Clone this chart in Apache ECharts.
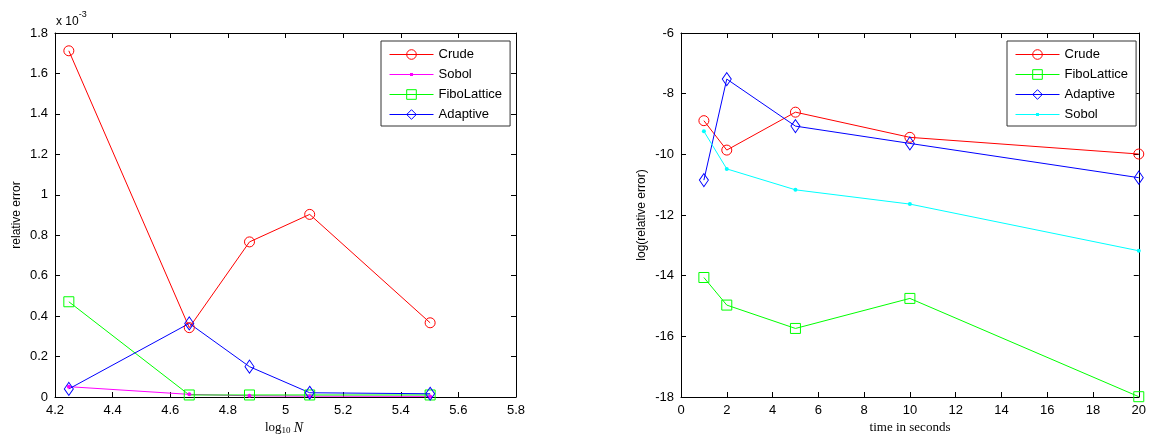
<!DOCTYPE html>
<html>
<head>
<meta charset="utf-8">
<script src="https://cdn.jsdelivr.net/npm/echarts@6/dist/echarts.min.js"></script>
<style>
html,body{margin:0;padding:0;background:#fff;}
#chart{width:1149px;height:437px;}
</style>
</head>
<body>
<div id="chart"></div>
<script>
// ---- Left plot: relative error (units of 1e-3) vs log10 N ----
const logN = [4.248, 4.666, 4.875, 5.084, 5.502];
const crudeErr = [1.712, 0.343, 0.767, 0.903, 0.367];
const sobolErr = [0.051, 0.013, 0.006, 0.004, 0.003];
const fiboErr = [0.471, 0.010, 0.010, 0.010, 0.010];
const adaptiveErr = [0.040, 0.364, 0.150, 0.021, 0.016];
const leftXTicks = [4.2, 5.8, 0.2];   // min, max, step
const leftYTicks = [0, 1.8, 0.2];

// ---- Right plot: log(relative error) vs time in seconds ----
const timeSec = [1, 2, 5, 10, 20];
const crudeLog = [-8.89, -9.86, -8.61, -9.44, -9.99];
const fiboLog = [-14.06, -14.97, -15.74, -14.75, -17.99];
const adaptiveLog = [-10.85, -7.52, -9.07, -9.64, -10.77];
const sobolLog = [-9.24, -10.48, -11.17, -11.64, -13.18];
const rightXTicks = [0, 20, 2];
const rightYTicks = [-18, -6, 2];

const leftNames = ['Crude', 'Sobol', 'FiboLattice', 'Adaptive'];
const rightNames = ['Crude', 'FiboLattice', 'Adaptive', 'Sobol'];

const pair = (xs, ys) => xs.map((x, i) => [x, ys[i]]);
const FONT = 'Liberation Sans, Arial, sans-serif';
const SERIF = 'Liberation Serif, Times New Roman, serif';

function mkSeries(name, xi, yi, data, color, symbol, size, filled) {
  return {
    name: name, type: 'line', xAxisIndex: xi, yAxisIndex: yi, data: data,
    symbol: symbol, symbolSize: size, showSymbol: true,
    lineStyle: {color: color, width: 1},
    itemStyle: {color: filled ? color : 'none', borderColor: color, borderWidth: filled ? 0 : 1},
    emphasis: {disabled: true},
    animation: false
  };
}

function axisBase(labels) {
  return {
    axisLine: {show: true, onZero: false, lineStyle: {color: '#000', width: 1}},
    axisTick: {show: true, inside: true, length: 5, lineStyle: {color: '#000'}},
    axisLabel: {show: labels, color: '#000', fontFamily: FONT, fontSize: 13, margin: 7},
    splitLine: {show: false}
  };
}

function ax(gi, pos, t, labels, fmt) {
  const b = axisBase(labels);
  return Object.assign(b, {
    type: 'value', gridIndex: gi, position: pos, min: t[0], max: t[1], interval: t[2],
    axisLabel: Object.assign(b.axisLabel, {formatter: fmt})
  });
}
const fmt1 = v => String(+v.toFixed(1));
const fmt0 = v => String(Math.round(v));

const chart = echarts.init(document.getElementById('chart'), null, {renderer: 'canvas'});

// small-dot legend icon (line with a tiny dot in the middle)
const dotIcon = 'path://M0,5.5L44,5.5L44,6.5L0,6.5Z M20.5,4.5L23.5,4.5L23.5,7.5L20.5,7.5Z';
const dotItem = n => ({name: n, icon: dotIcon, itemStyle: {borderWidth: 0}});

const legendCommon = {
  orient: 'vertical', itemWidth: 44, itemHeight: 12, itemGap: 5,
  padding: [6, 8, 4, 8], borderColor: '#333', borderWidth: 1, backgroundColor: '#fff',
  textStyle: {color: '#000', fontFamily: FONT, fontSize: 13, lineHeight: 15},
  lineStyle: {width: 1}, itemStyle: {borderWidth: 1},
  selectedMode: false, formatter: n => n.split('#')[0]
};

const option = {
  animation: false,
  backgroundColor: '#fff',
  grid: [
    {left: 55, top: 33, width: 461, height: 364},
    {left: 681, top: 33, width: 461, height: 364}
  ],
  xAxis: [
    ax(0, 'bottom', leftXTicks, true, fmt1),
    ax(0, 'top', leftXTicks, false, fmt1),
    ax(1, 'bottom', rightXTicks, true, fmt0),
    ax(1, 'top', rightXTicks, false, fmt0)
  ],
  yAxis: [
    ax(0, 'left', leftYTicks, true, fmt1),
    ax(0, 'right', leftYTicks, false, fmt1),
    ax(1, 'left', rightYTicks, true, fmt0),
    ax(1, 'right', rightYTicks, false, fmt0)
  ],
  legend: [
    Object.assign({}, legendCommon, {left: 381, top: 41,
      data: leftNames.map(n => n === 'Sobol' ? dotItem(n) : n)}),
    Object.assign({}, legendCommon, {left: 1007, top: 41,
      data: rightNames.map(n => n === 'Sobol' ? dotItem(n + '#2') : n + '#2')})
  ],
  series: [
    mkSeries('Crude', 0, 0, pair(logN, crudeErr), '#ff0000', 'circle', 10, false),
    mkSeries('Sobol', 0, 0, pair(logN, sobolErr), '#ff00ff', 'circle', 4, true),
    mkSeries('FiboLattice', 0, 0, pair(logN, fiboErr), '#00ff00', 'rect', 10, false),
    mkSeries('Adaptive', 0, 0, pair(logN, adaptiveErr), '#0000ff', 'diamond', [9, 13], false),
    mkSeries('Crude#2', 2, 2, pair(timeSec, crudeLog), '#ff0000', 'circle', 10, false),
    mkSeries('FiboLattice#2', 2, 2, pair(timeSec, fiboLog), '#00ff00', 'rect', 10, false),
    mkSeries('Adaptive#2', 2, 2, pair(timeSec, adaptiveLog), '#0000ff', 'diamond', [9, 13], false),
    mkSeries('Sobol#2', 2, 2, pair(timeSec, sobolLog), '#00ffff', 'circle', 4, true)
  ],
  graphic: [
    {type: 'text', left: 56, top: 10, silent: true,
     style: {text: '{a|x 10}{b|-3}', rich: {
       a: {fontFamily: FONT, fontSize: 12, fill: '#000', padding: [6, 0, 0, 0]},
       b: {fontFamily: FONT, fontSize: 9, fill: '#000', verticalAlign: 'top'}
     }}},
    {type: 'text', x: 17, y: 215, rotation: Math.PI / 2, silent: true,
     style: {text: 'relative error', fontFamily: FONT, fontSize: 12, fill: '#000',
             align: 'center', verticalAlign: 'middle'}},
    {type: 'text', x: 642, y: 215, rotation: Math.PI / 2, silent: true,
     style: {text: 'log(relative error)', fontFamily: FONT, fontSize: 12, fill: '#000',
             align: 'center', verticalAlign: 'middle'}},
    {type: 'text', x: 284, y: 428, silent: true,
     style: {text: '{a|log}{s|10}{a| }{i|N}', align: 'center', verticalAlign: 'middle', rich: {
       a: {fontFamily: SERIF, fontSize: 13, fill: '#000'},
       s: {fontFamily: SERIF, fontSize: 9, fill: '#000', padding: [6, 0, 0, 0]},
       i: {fontFamily: SERIF, fontSize: 14, fontStyle: 'italic', fill: '#000'}
     }}},
    {type: 'text', x: 910, y: 428, silent: true,
     style: {text: 'time in seconds', fontFamily: SERIF, fontSize: 13, fill: '#000',
             align: 'center', verticalAlign: 'middle'}}
  ]
};
chart.setOption(option);
</script>
</body>
</html>
